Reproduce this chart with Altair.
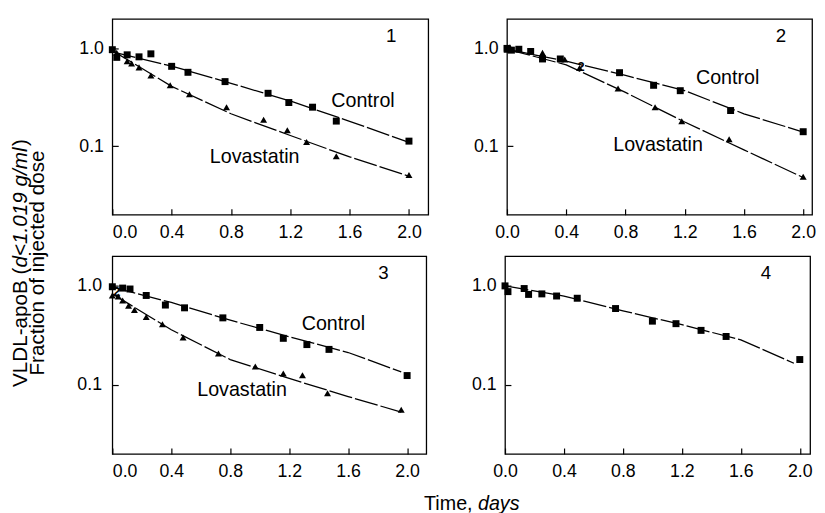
import altair as alt
import pandas as pd

FONT = "Liberation Sans"

# ---------------- data ----------------
fit_t = [0.0, 0.4, 0.8, 1.2, 1.6, 2.0]

# Panel 1
p1_ctrl_t = [0.0, 0.03, 0.10, 0.18, 0.26, 0.40, 0.51, 0.76, 1.05, 1.19, 1.35, 1.51, 2.0]
p1_ctrl_v = [0.97, 0.81, 0.86, 0.82, 0.88, 0.656, 0.57, 0.458, 0.348, 0.28, 0.251, 0.181, 0.113]
p1_lova_t = [0.0, 0.03, 0.10, 0.13, 0.18, 0.26, 0.39, 0.52, 0.77, 1.02, 1.18, 1.31, 1.51, 2.0]
p1_lova_v = [0.98, 0.90, 0.74, 0.70, 0.64, 0.53, 0.42, 0.34, 0.25, 0.187, 0.146, 0.111, 0.079, 0.051]
p1_fit_ctrl = [0.92, 0.66, 0.44, 0.29, 0.18, 0.11]
p1_fit_lova = [0.95, 0.41, 0.215, 0.129, 0.078, 0.0495]

# Panel 2
p2_ctrl_t = [0.0, 0.03, 0.08, 0.16, 0.24, 0.36, 0.76, 0.99, 1.17, 1.51, 2.0]
p2_ctrl_v = [1.0, 0.96, 0.98, 0.93, 0.78, 0.78, 0.565, 0.42, 0.37, 0.232, 0.141]
p2_lova_t = [0.0, 0.02, 0.24, 0.39, 0.49, 0.75, 1.0, 1.18, 1.5, 2.0]
p2_lova_v = [0.97, 1.03, 0.90, 0.77, 0.63, 0.39, 0.25, 0.18, 0.118, 0.049]
p2_fit_ctrl = [0.98, 0.74, 0.53, 0.37, 0.215, 0.14]
p2_fit_lova = [0.98, 0.68, 0.355, 0.177, 0.092, 0.048]

# Panel 3
p3_ctrl_t = [0.0, 0.07, 0.12, 0.23, 0.36, 0.49, 0.75, 1.0, 1.16, 1.32, 1.47, 2.0]
p3_ctrl_v = [0.98, 0.95, 0.93, 0.80, 0.64, 0.60, 0.475, 0.38, 0.295, 0.255, 0.228, 0.124]
p3_lova_t = [0.0, 0.0, 0.04, 0.07, 0.11, 0.15, 0.23, 0.34, 0.48, 0.72, 0.97, 1.16, 1.29, 1.46, 1.96]
p3_lova_v = [1.0, 0.80, 0.78, 0.71, 0.63, 0.57, 0.485, 0.41, 0.30, 0.207, 0.153, 0.13, 0.125, 0.082, 0.056]
p3_fit_t = [0.0, 0.4, 0.8, 1.2, 1.6, 1.96]
p3_fit_ctrl = [0.97, 0.68, 0.45, 0.306, 0.212, 0.135]
p3_fit_lova = [0.83, 0.36, 0.18, 0.116, 0.076, 0.053]

# Panel 4
p4_ctrl_t = [0.0, 0.02, 0.13, 0.16, 0.25, 0.35, 0.49, 0.75, 1.0, 1.16, 1.33, 1.50, 2.0]
p4_ctrl_v = [1.0, 0.875, 0.94, 0.82, 0.83, 0.79, 0.75, 0.59, 0.44, 0.415, 0.355, 0.308, 0.18]
p4_fit_t = [0.0, 0.4, 0.8, 1.2, 1.6, 1.96]
p4_fit_ctrl = [1.0, 0.79, 0.56, 0.405, 0.285, 0.165]

x_ticks = [0.0, 0.4, 0.8, 1.2, 1.6, 2.0]
y_ticks = [0.1, 1.0]

# annotation labels: (text, t, value)
p1_labels = [("Control", 1.69, 0.29), ("Lovastatin", 0.96, 0.078)]
p2_labels = [("Control", 1.49, 0.50), ("Lovastatin", 1.02, 0.104)]
p3_labels = [("Control", 1.50, 0.41), ("Lovastatin", 0.88, 0.088)]
p4_labels = []
# small "2" marks where two points overlap
p2_overlap = [("2", 0.50, 0.64)]
p3_overlap = [("2", 0.03, 0.86)]
panel_ids = [("1", 1.88, 1.34), ("2", 1.85, 1.34), ("3", 1.84, 1.34), ("4", 1.77, 1.34)]

y_title_1a = "VLDL-apoB ("
y_title_1b = "d<1.019 g/ml"
y_title_1c = ")"
y_title_2 = "Fraction of injected dose"
x_title_a = "Time,"
x_title_b = "days"

SERIES = ["Control", "Lovastatin"]


def points_df(ctrl_t, ctrl_v, lova_t, lova_v):
    rows = [{"t": t, "v": v, "s": "Control"} for t, v in zip(ctrl_t, ctrl_v)]
    if lova_t:
        rows += [{"t": t, "v": v, "s": "Lovastatin"} for t, v in zip(lova_t, lova_v)]
    return pd.DataFrame(rows)


def fit_df(ft, fc, fl):
    rows = [{"t": t, "v": v, "s": "Control"} for t, v in zip(ft, fc)]
    if fl:
        rows += [{"t": t, "v": v, "s": "Lovastatin"} for t, v in zip(ft, fl)]
    return pd.DataFrame(rows)


def panel(idx, pts, fits, labels, overlap, xmax, width, height, flush, ypad):
    xs = alt.Scale(domain=[0, xmax], nice=False, zero=False)
    ys = alt.Scale(type="log", domain=[0.02, 2], nice=False)
    xax = alt.Axis(values=x_ticks, format=".1f", title=None, grid=False,
                   domain=False, tickSize=6, offset=-6, tickColor="black",
                   tickWidth=1.2, labelPadding=9, labelFlush=flush,
                   labelFont=FONT, labelFontSize=18, labelColor="black")
    yax = alt.Axis(values=y_ticks, format=".1f", title=None, grid=False,
                   domain=False, tickSize=6, offset=-6, tickColor="black",
                   tickWidth=1.2, labelPadding=ypad,
                   labelFont=FONT, labelFontSize=18, labelColor="black")
    X = alt.X("t:Q", scale=xs, axis=xax)
    Y = alt.Y("v:Q", scale=ys, axis=yax)
    Xn = alt.X("t:Q", scale=xs)
    Yn = alt.Y("v:Q", scale=ys)

    lines = alt.Chart(fits).mark_line(color="black", strokeWidth=1.3,
                                      strokeDash=[24, 3]).encode(
        x=X, y=Y, detail="s:N", order="t:Q")
    marks = alt.Chart(pts).mark_point(filled=True, color="black", opacity=1,
                                      size=50).encode(
        x=Xn, y=Yn,
        shape=alt.Shape("s:N", scale=alt.Scale(domain=SERIES,
                                               range=["square", "triangle-up"]),
                        legend=None))
    layers = [lines, marks]
    if labels:
        ldf = pd.DataFrame([{"txt": a, "t": b, "v": c} for a, b, c in labels])
        layers.append(alt.Chart(ldf).mark_text(font=FONT, fontSize=20,
                                               color="black").encode(
            x=Xn, y=Yn, text="txt:N"))
    if overlap:
        odf = pd.DataFrame([{"txt": a, "t": b, "v": c} for a, b, c in overlap])
        layers.append(alt.Chart(odf).mark_text(font=FONT, fontSize=13,
                                               fontWeight="bold",
                                               color="black").encode(
            x=Xn, y=Yn, text="txt:N"))
    pid = panel_ids[idx]
    pdf = pd.DataFrame([{"txt": pid[0], "t": pid[1], "v": pid[2]}])
    layers.append(alt.Chart(pdf).mark_text(font=FONT, fontSize=19,
                                           color="black").encode(
        x=Xn, y=Yn, text="txt:N"))
    return alt.layer(*layers).properties(
        width=width, height=height,
        view=alt.ViewBackground(stroke="black", strokeWidth=1.3))


p1 = panel(0, points_df(p1_ctrl_t, p1_ctrl_v, p1_lova_t, p1_lova_v),
           fit_df(fit_t, p1_fit_ctrl, p1_fit_lova), p1_labels, [], 2.13, 321, 199, True, 9)
p2 = panel(1, points_df(p2_ctrl_t, p2_ctrl_v, p2_lova_t, p2_lova_v),
           fit_df(fit_t, p2_fit_ctrl, p2_fit_lova), p2_labels, p2_overlap, 2.06, 310, 199, False, 9)
p3 = panel(2, points_df(p3_ctrl_t, p3_ctrl_v, p3_lova_t, p3_lova_v),
           fit_df(p3_fit_t, p3_fit_ctrl, p3_fit_lova), p3_labels, p3_overlap, 2.13, 319, 201, True, 11)
p4 = panel(3, points_df(p4_ctrl_t, p4_ctrl_v, [], []),
           fit_df(p4_fit_t, p4_fit_ctrl, []), p4_labels, [], 2.07, 310, 201, False, 9)

# ----- shared y title (rotated, two lines, partly italic) -----
ytdf = pd.DataFrame([{"a": y_title_1a, "b": y_title_1b, "c": y_title_1c, "d": y_title_2}])
base_y = alt.Chart(ytdf)
ya = base_y.mark_text(font=FONT, fontSize=21, angle=270, align="left",
                      baseline="middle", color="black").encode(
    text="a:N", x=alt.value(13), y=alt.value(374))
yb = base_y.mark_text(font=FONT, fontSize=21, angle=270, align="left",
                      baseline="middle", fontStyle="italic", color="black").encode(
    text="b:N", x=alt.value(13), y=alt.value(252.5))
yc = base_y.mark_text(font=FONT, fontSize=21, angle=270, align="left",
                      baseline="middle", color="black").encode(
    text="c:N", x=alt.value(13), y=alt.value(129))
yd = base_y.mark_text(font=FONT, fontSize=21, angle=270, align="center",
                      baseline="middle", color="black").encode(
    text="d:N", x=alt.value(31), y=alt.value(248))
ytitle = alt.layer(ya, yb, yc, yd).properties(
    width=45, height=440, view=alt.ViewBackground(strokeOpacity=0))

# ----- shared x title -----
xtdf = pd.DataFrame([{"a": x_title_a, "b": x_title_b}])
xa = alt.Chart(xtdf).mark_text(font=FONT, fontSize=20, align="right",
                               baseline="alphabetic", color="black").encode(
    text="a:N", x=alt.value(366), y=alt.value(16))
xb = alt.Chart(xtdf).mark_text(font=FONT, fontSize=20, align="left",
                               baseline="alphabetic", fontStyle="italic",
                               color="black").encode(
    text="b:N", x=alt.value(371.5), y=alt.value(16))
xtitle = alt.layer(xa, xb).properties(
    width=700, height=14, view=alt.ViewBackground(strokeOpacity=0))

row1 = alt.hconcat(p1, p2, spacing=44)
row2 = alt.hconcat(p3, p4, spacing=44)
grid = alt.vconcat(row1, row2, xtitle, spacing=13)

chart = alt.hconcat(ytitle, grid, spacing=24).properties(
    padding={"top": 6, "left": 0, "right": 0, "bottom": 0}
).configure_view(strokeOpacity=0).configure(background="white")

chart.save("out.html", embed_options={"renderer": "svg", "actions": False})
